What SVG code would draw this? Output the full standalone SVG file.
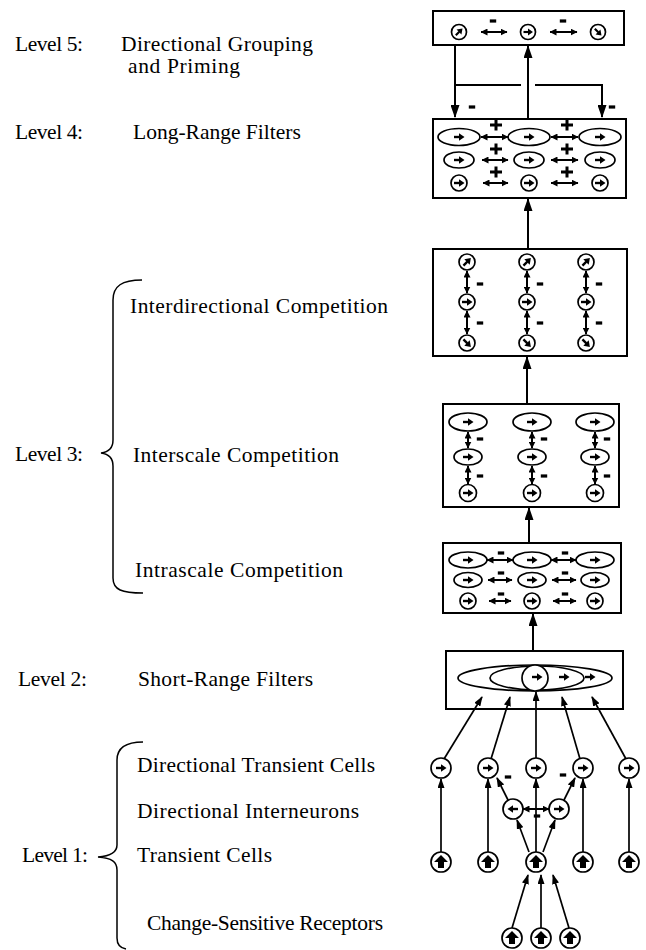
<svg xmlns="http://www.w3.org/2000/svg" xmlns:xlink="http://www.w3.org/1999/xlink" width="646" height="950" viewBox="0 0 646 950">
<style>
.box{fill:none;stroke:#000;stroke-width:2}
.cell{fill:#fff;stroke:#000;stroke-width:1.7}
.ln{fill:none;stroke:#000;stroke-width:2}
.thin{fill:none;stroke:#000;stroke-width:1.7}
.big{marker-end:url(#mBig)}
.med{marker-end:url(#mMed)}
.dbl{fill:none;stroke:#000;stroke-width:2;marker-start:url(#mSm);marker-end:url(#mSm)}
.brace{fill:none;stroke:#000;stroke-width:1.5}
text{font-family:"Liberation Serif","Times New Roman",serif;font-size:21.5px;fill:#000}
</style>
<defs>
<marker id="mBig" viewBox="0 0 13 9" refX="12" refY="4.5" markerWidth="13" markerHeight="9" markerUnits="userSpaceOnUse" orient="auto"><path d="M0,0 L13,4.5 L0,9 Z" fill="#000"/></marker>
<marker id="mMed" viewBox="0 0 10 7" refX="9" refY="3.5" markerWidth="10" markerHeight="7" markerUnits="userSpaceOnUse" orient="auto"><path d="M0,0 L10,3.5 L0,7 Z" fill="#000"/></marker>
<marker id="mSm" viewBox="0 0 7 7" refX="6.5" refY="3.5" markerWidth="7" markerHeight="7" markerUnits="userSpaceOnUse" orient="auto-start-reverse"><path d="M0,0 L7,3.5 L0,7 Z" fill="#000"/></marker>
<g id="ar"><path d="M-5,0 H0.5" stroke="#000" stroke-width="2.4" fill="none"/><path d="M0,-3.8 L5.5,0 L0,3.8 Z" fill="#000"/></g>
<path id="up" d="M0,-7 L7,0 L3,0 L3,6 L-3,6 L-3,0 L-7,0 Z" fill="#000"/>
<rect id="mn" x="-3.2" y="-1.6" width="6.4" height="3.2" fill="#000"/>
<path id="pl" d="M-6,0 H6 M0,-5.5 V5.5" stroke="#000" stroke-width="3" fill="none"/>
</defs>
<rect width="646" height="950" fill="#fff"/>

<!-- Labels -->
<g id="labels">
<text x="15" y="51" textLength="68">Level 5:</text>
<text x="121" y="51" textLength="192">Directional Grouping</text>
<text x="128" y="73" textLength="112">and Priming</text>
<text x="15" y="139" textLength="68">Level 4:</text>
<text x="133" y="139">Long-Range Filters</text>
<text x="130" y="313" textLength="258">Interdirectional Competition</text>
<text x="15" y="461" textLength="68">Level 3:</text>
<text x="133" y="462" textLength="206">Interscale Competition</text>
<text x="135" y="577" textLength="208">Intrascale Competition</text>
<text x="18" y="686" textLength="69">Level 2:</text>
<text x="138" y="686" textLength="175">Short-Range Filters</text>
<text x="137" y="772" textLength="238">Directional Transient Cells</text>
<text x="137" y="818" textLength="222">Directional Interneurons</text>
<text x="22" y="862" textLength="66">Level 1:</text>
<text x="137" y="862" textLength="135">Transient Cells</text>
<text x="147" y="930" textLength="236">Change-Sensitive Receptors</text>
</g>

<g id="braces">
<path class="brace" d="M142,280 C122,280 113,286 113,300 L113,440 C113,448 109,452 101,453 C109,454 113,458 113,466 L113,578 C113,590 122,593 143,593"/>
<path class="brace" d="M143,742 C125,742 117,748 117,760 L117,845 C117,852 112,856 98,857 C112,858 117,862 117,870 L117,938 C117,945 120,948 126,949"/>
</g>

<!-- Level 5 -->
<g id="level5">
<rect class="box" x="433" y="11" width="191" height="34"/>
<circle class="cell" cx="459" cy="32" r="7.5"/><use xlink:href="#ar" transform="translate(459,32) rotate(-45) scale(0.9)"/>
<circle class="cell" cx="528" cy="32" r="7.5"/><use xlink:href="#ar" transform="translate(528,32) scale(0.9)"/>
<circle class="cell" cx="598" cy="32" r="7.5"/><use xlink:href="#ar" transform="translate(598,32) rotate(45) scale(0.9)"/>
<path class="dbl" d="M481,32 H507"/><path class="dbl" d="M550,32 H577"/>
<use xlink:href="#mn" x="493" y="21"/><use xlink:href="#mn" x="563" y="21"/>
</g>

<!-- Level 4 -->
<g id="level4">
<rect class="box" x="433" y="119" width="193" height="79"/>
<ellipse class="cell" cx="459" cy="137" rx="21" ry="8.5"/><use xlink:href="#ar" transform="translate(459,137)"/>
<ellipse class="cell" cx="529" cy="137" rx="21" ry="8.5"/><use xlink:href="#ar" transform="translate(529,137)"/>
<ellipse class="cell" cx="600" cy="137" rx="21" ry="8.5"/><use xlink:href="#ar" transform="translate(600,137)"/>
<ellipse class="cell" cx="459" cy="160" rx="15" ry="8"/><use xlink:href="#ar" transform="translate(459,160)"/>
<ellipse class="cell" cx="529" cy="160" rx="15" ry="8"/><use xlink:href="#ar" transform="translate(529,160)"/>
<ellipse class="cell" cx="600" cy="160" rx="15" ry="8"/><use xlink:href="#ar" transform="translate(600,160)"/>
<circle class="cell" cx="459" cy="183" r="8"/><use xlink:href="#ar" transform="translate(459,183)"/>
<circle class="cell" cx="529" cy="183" r="8"/><use xlink:href="#ar" transform="translate(529,183)"/>
<circle class="cell" cx="600" cy="183" r="8"/><use xlink:href="#ar" transform="translate(600,183)"/>
<path class="dbl" d="M481,137 H508"/><path class="dbl" d="M551,137 H578"/>
<path class="dbl" d="M482,160 H508"/><path class="dbl" d="M551,160 H578"/>
<path class="dbl" d="M483,183 H508"/><path class="dbl" d="M551,183 H578"/>
<use xlink:href="#pl" x="496" y="125"/><use xlink:href="#pl" x="567" y="125"/>
<use xlink:href="#pl" x="496" y="149"/><use xlink:href="#pl" x="567" y="149"/>
<use xlink:href="#pl" x="496" y="172"/><use xlink:href="#pl" x="567" y="172"/>
</g>

<!-- Level 3: Interdirectional -->
<g id="interdirectional">
<rect class="box" x="433" y="249" width="194" height="107"/>
<g id="idcol1">
<circle class="cell" cx="467" cy="262" r="8"/><use xlink:href="#ar" transform="translate(467,262) rotate(-45)"/>
<circle class="cell" cx="467" cy="302" r="8"/><use xlink:href="#ar" transform="translate(467,302)"/>
<circle class="cell" cx="467" cy="343" r="8"/><use xlink:href="#ar" transform="translate(467,343) rotate(45)"/>
<path class="dbl" d="M467,271 V293"/><path class="dbl" d="M467,311 V334"/>
<use xlink:href="#mn" x="480" y="284"/><use xlink:href="#mn" x="480" y="323"/>
</g>
<g id="idcol2">
<circle class="cell" cx="527" cy="262" r="8"/><use xlink:href="#ar" transform="translate(527,262) rotate(-45)"/>
<circle class="cell" cx="527" cy="302" r="8"/><use xlink:href="#ar" transform="translate(527,302)"/>
<circle class="cell" cx="527" cy="343" r="8"/><use xlink:href="#ar" transform="translate(527,343) rotate(45)"/>
<path class="dbl" d="M527,271 V293"/><path class="dbl" d="M527,311 V334"/>
<use xlink:href="#mn" x="540" y="284"/><use xlink:href="#mn" x="540" y="323"/>
</g>
<g id="idcol3">
<circle class="cell" cx="586" cy="262" r="8"/><use xlink:href="#ar" transform="translate(586,262) rotate(-45)"/>
<circle class="cell" cx="586" cy="302" r="8"/><use xlink:href="#ar" transform="translate(586,302)"/>
<circle class="cell" cx="586" cy="343" r="8"/><use xlink:href="#ar" transform="translate(586,343) rotate(45)"/>
<path class="dbl" d="M586,271 V293"/><path class="dbl" d="M586,311 V334"/>
<use xlink:href="#mn" x="599" y="284"/><use xlink:href="#mn" x="599" y="323"/>
</g>
</g>

<!-- Level 3: Interscale -->
<g id="interscale">
<rect class="box" x="443" y="404" width="176" height="103"/>
<ellipse class="cell" cx="468" cy="422" rx="19" ry="9"/><use xlink:href="#ar" transform="translate(468,422)"/>
<ellipse class="cell" cx="532" cy="422" rx="19" ry="9"/><use xlink:href="#ar" transform="translate(532,422)"/>
<ellipse class="cell" cx="595" cy="422" rx="19" ry="9"/><use xlink:href="#ar" transform="translate(595,422)"/>
<ellipse class="cell" cx="468" cy="457" rx="14" ry="8"/><use xlink:href="#ar" transform="translate(468,457)"/>
<ellipse class="cell" cx="532" cy="457" rx="14" ry="8"/><use xlink:href="#ar" transform="translate(532,457)"/>
<ellipse class="cell" cx="595" cy="457" rx="14" ry="8"/><use xlink:href="#ar" transform="translate(595,457)"/>
<circle class="cell" cx="468" cy="493" r="8.5"/><use xlink:href="#ar" transform="translate(468,493)"/>
<circle class="cell" cx="532" cy="493" r="8.5"/><use xlink:href="#ar" transform="translate(532,493)"/>
<circle class="cell" cx="595" cy="493" r="8.5"/><use xlink:href="#ar" transform="translate(595,493)"/>
<path class="dbl" d="M468,432 V448"/><path class="dbl" d="M468,466 V484"/>
<path class="dbl" d="M532,432 V448"/><path class="dbl" d="M532,466 V484"/>
<path class="dbl" d="M595,432 V448"/><path class="dbl" d="M595,466 V484"/>
<use xlink:href="#mn" x="480" y="439"/><use xlink:href="#mn" x="480" y="476"/>
<use xlink:href="#mn" x="544" y="439"/><use xlink:href="#mn" x="544" y="476"/>
<use xlink:href="#mn" x="607" y="439"/><use xlink:href="#mn" x="607" y="476"/>
</g>

<!-- Level 3: Intrascale -->
<g id="intrascale">
<rect class="box" x="443" y="543" width="178" height="70"/>
<ellipse class="cell" cx="468" cy="560" rx="19" ry="8"/><use xlink:href="#ar" transform="translate(468,560)"/>
<ellipse class="cell" cx="532" cy="560" rx="19" ry="8"/><use xlink:href="#ar" transform="translate(532,560)"/>
<ellipse class="cell" cx="595" cy="560" rx="19" ry="8"/><use xlink:href="#ar" transform="translate(595,560)"/>
<ellipse class="cell" cx="468" cy="580" rx="14" ry="7.5"/><use xlink:href="#ar" transform="translate(468,580)"/>
<ellipse class="cell" cx="532" cy="580" rx="14" ry="7.5"/><use xlink:href="#ar" transform="translate(532,580)"/>
<ellipse class="cell" cx="595" cy="580" rx="14" ry="7.5"/><use xlink:href="#ar" transform="translate(595,580)"/>
<circle class="cell" cx="468" cy="601" r="8"/><use xlink:href="#ar" transform="translate(468,601)"/>
<circle class="cell" cx="532" cy="601" r="8"/><use xlink:href="#ar" transform="translate(532,601)"/>
<circle class="cell" cx="595" cy="601" r="8"/><use xlink:href="#ar" transform="translate(595,601)"/>
<path class="dbl" d="M487,560 H513"/><path class="dbl" d="M551,560 H576"/>
<path class="dbl" d="M488,580 H512"/><path class="dbl" d="M552,580 H576"/>
<path class="dbl" d="M489,601 H511"/><path class="dbl" d="M553,601 H576"/>
<use xlink:href="#mn" x="501" y="553"/><use xlink:href="#mn" x="565" y="553"/>
<use xlink:href="#mn" x="501" y="573"/><use xlink:href="#mn" x="565" y="573"/>
<use xlink:href="#mn" x="501" y="594"/><use xlink:href="#mn" x="565" y="594"/>
</g>

<!-- Level 2 -->
<g id="level2">
<rect class="box" x="446" y="651" width="177" height="58"/>
<ellipse class="cell" cx="535" cy="678" rx="77" ry="13"/>
<ellipse class="cell" cx="537" cy="678" rx="47" ry="12"/>
<ellipse class="cell" cx="535" cy="678" rx="13" ry="13"/>
<use xlink:href="#ar" transform="translate(537,677)"/>
<use xlink:href="#ar" transform="translate(564,677)"/>
<use xlink:href="#ar" transform="translate(590,677)"/>
</g>

<!-- Level 1 -->
<g id="dir-transient">
<circle class="cell" cx="441" cy="768" r="10"/><use xlink:href="#ar" transform="translate(441,768)"/>
<circle class="cell" cx="488" cy="768" r="10"/><use xlink:href="#ar" transform="translate(488,768)"/>
<circle class="cell" cx="536" cy="768" r="10"/><use xlink:href="#ar" transform="translate(536,768)"/>
<circle class="cell" cx="583" cy="768" r="10"/><use xlink:href="#ar" transform="translate(583,768)"/>
<circle class="cell" cx="629" cy="768" r="10"/><use xlink:href="#ar" transform="translate(629,768)"/>
</g>
<g id="interneurons">
<circle class="cell" cx="513" cy="809" r="10"/><use xlink:href="#ar" transform="translate(513,809) rotate(180)"/>
<circle class="cell" cx="559" cy="809" r="10"/><use xlink:href="#ar" transform="translate(559,809)"/>
</g>
<g id="transient">
<circle class="cell" cx="441" cy="862" r="10"/><use xlink:href="#up" x="441" y="862"/>
<circle class="cell" cx="488" cy="862" r="10"/><use xlink:href="#up" x="488" y="862"/>
<circle class="cell" cx="536" cy="862" r="10"/><use xlink:href="#up" x="536" y="862"/>
<circle class="cell" cx="583" cy="862" r="10"/><use xlink:href="#up" x="583" y="862"/>
<circle class="cell" cx="629" cy="862" r="10"/><use xlink:href="#up" x="629" y="862"/>
</g>
<g id="receptors">
<circle class="cell" cx="512" cy="938" r="10"/><use xlink:href="#up" x="512" y="938"/>
<circle class="cell" cx="541" cy="938" r="10"/><use xlink:href="#up" x="541" y="938"/>
<circle class="cell" cx="570" cy="938" r="10"/><use xlink:href="#up" x="570" y="938"/>
</g>

<!-- Connectors -->
<g id="connectors">
<path class="ln big" d="M455,45 V117"/>
<path class="ln big" d="M528,119 V46"/>
<path class="ln big" d="M455,85 H521 M535,85 H602 V117"/>
<use xlink:href="#mn" x="472" y="107"/><use xlink:href="#mn" x="612" y="107"/>
<path class="ln big" d="M528,249 V199"/>
<path class="ln big" d="M527,404 V357"/>
<path class="ln big" d="M529,543 V508"/>
<path class="ln big" d="M533,651 V614"/>
<path class="thin med" d="M444,759 L482,697"/>
<path class="thin med" d="M491,759 L510,697"/>
<path class="thin med" d="M536,758 V692"/>
<path class="thin med" d="M580,759 L562,697"/>
<path class="thin med" d="M626,759 L592,697"/>
<path class="thin med" d="M441,852 V779"/>
<path class="thin med" d="M488,852 V779"/>
<path class="thin med" d="M536,852 V779"/>
<path class="thin med" d="M583,852 V779"/>
<path class="thin med" d="M629,852 V779"/>
<path class="dbl" d="M523,809 H549"/>
<use xlink:href="#mn" x="537" y="816"/>
<path class="thin med" d="M529,852 L517,820"/>
<path class="thin med" d="M543,852 L555,820"/>
<path class="thin med" d="M508,800 L497,778"/>
<path class="thin med" d="M564,800 L575,778"/>
<use xlink:href="#mn" x="508" y="777"/><use xlink:href="#mn" x="563" y="775"/>
<path class="thin med" d="M512,928 L528,875"/>
<path class="thin med" d="M541,928 V875"/>
<path class="thin med" d="M569,928 L553,875"/>
</g>
</svg>
